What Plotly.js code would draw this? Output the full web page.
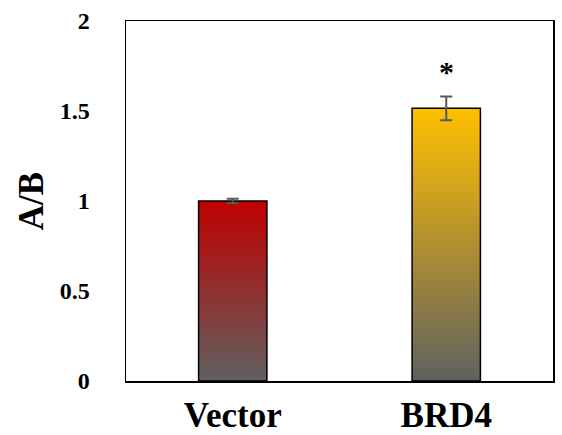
<!DOCTYPE html>
<html>
<head>
<meta charset="utf-8">
<script src="https://cdn.plot.ly/plotly-3.0.1.min.js"></script>
<style>html,body{margin:0;padding:0;background:#fff;}#chart{width:562px;height:435px;}</style>
</head>
<body>
<div id="chart"></div>
<script>
var categories = ["Vector", "BRD4"];
var values = [1.0, 1.515];
var errors = [0.012, 0.066];
var topColors = ["#c00000", "#ffc000"];
var bottomColor = "#606060";
var significance = ["", "*"];
var yTickVals = [0, 0.5, 1, 1.5, 2];
var yTickText = ["0", "0.5", "1", "1.5", "2"];

var barWidth = 0.32;
var traces = [];
categories.forEach(function (c, i) {
  var x0 = i - barWidth / 2, x1 = i + barWidth / 2;
  traces.push({
    type: "scatter",
    mode: "lines",
    name: c,
    x: [x0, x0, x1, x1, x0],
    y: [0, values[i], values[i], 0, 0],
    fill: "toself",
    fillgradient: {
      type: "vertical",
      start: 0,
      stop: values[i],
      colorscale: [[0, bottomColor], [1, topColors[i]]]
    },
    line: {color: "#000", width: 1.5},
    hoverinfo: "skip",
    showlegend: false
  });
});
traces.push({
  type: "scatter",
  mode: "markers",
  x: categories.map(function (c, i) { return i; }),
  y: values,
  marker: {size: 1, color: "rgba(0,0,0,0)"},
  error_y: {type: "data", array: errors, visible: true, color: "#595959", thickness: 2, width: 6},
  showlegend: false
});

var annotations = [];
significance.forEach(function (s, i) {
  if (!s) return;
  annotations.push({
    x: i, y: values[i] + errors[i], xref: "x", yref: "y",
    text: s, showarrow: false, yanchor: "bottom", yshift: 6,
    font: {family: "Liberation Serif", size: 30, weight: "bold", color: "#000"}
  });
});

var layout = {
  width: 562, height: 435,
  margin: {l: 126, r: 9, t: 21, b: 54},
  paper_bgcolor: "#fff", plot_bgcolor: "#fff",
  showlegend: false,
  xaxis: {
    range: [-0.5, 1.5],
    tickvals: categories.map(function (c, i) { return i; }),
    ticktext: categories,
    showgrid: false, zeroline: false,
    showline: true, linecolor: "#000", linewidth: 1.5, mirror: true,
    ticks: "", ticklabelstandoff: 2,
    tickfont: {family: "Liberation Serif", size: 35, weight: "bold", color: "#000"}
  },
  yaxis: {
    range: [0, 2],
    tickvals: yTickVals, ticktext: yTickText,
    showgrid: false, zeroline: false,
    showline: true, linecolor: "#000", linewidth: 1.5, mirror: true,
    ticks: "", ticklabelstandoff: 30,
    tickfont: {family: "Liberation Serif", size: 24, weight: "bold", color: "#000"},
    title: {text: "A/B", standoff: 5, font: {family: "Liberation Serif", size: 35, weight: "bold", color: "#000"}}
  },
  annotations: annotations
};

Plotly.newPlot("chart", traces, layout, {displayModeBar: false, staticPlot: true});
</script>
</body>
</html>
